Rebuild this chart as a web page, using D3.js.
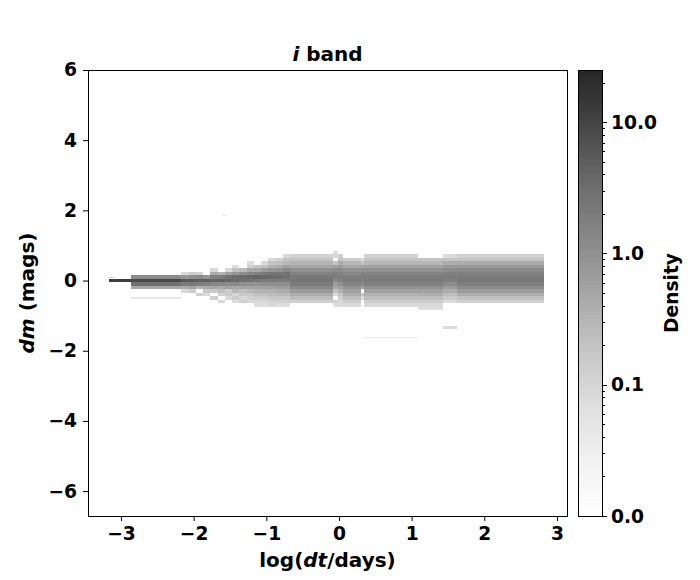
<!DOCTYPE html>
<html><head><meta charset="utf-8">
<script src="https://cdn.jsdelivr.net/npm/d3@7"></script>
<style>body{margin:0;background:#fff}svg{font-family:"DejaVu Sans",sans-serif;font-weight:bold}</style>
</head><body><svg id="c" width="700" height="580"></svg>
<script>
// ---------- DATA ----------
const xTicks = [-3, -2, -1, 0, 1, 2, 3];
const yTicks = [-6, -4, -2, 0, 2, 4, 6];
const cbTicks = [10, 1, 0.1, 0.01];
const cbLabels = ["10.0", "1.0", "0.1", "0.0"];
const binH = 0.1; // dm bin height
// column edges in log(dt/days)
const colX0 = [-3.165, -2.862, -2.17, -2.07, -1.97, -1.87, -1.77, -1.67, -1.57, -1.47, -1.37, -1.27, -1.17, -1.07, -0.97, -0.87, -0.77, -0.67, -0.08, -0.01, 0.06, 0.30, 0.34, 1.09, 1.43, 1.62];
const colX1 = [-2.862, -2.17, -2.07, -1.97, -1.87, -1.77, -1.67, -1.57, -1.47, -1.37, -1.27, -1.17, -1.07, -0.97, -0.87, -0.77, -0.67, -0.08, -0.01, 0.06, 0.30, 0.34, 1.09, 1.43, 1.62, 2.82];
// dm of top edge of first cell in each column
const colTop = [0.05, 0.15, 0.25, 0.25, 0.25, 0.25, 0.35, 0.35, 0.35, 0.45, 0.45, 0.55, 0.55, 0.55, 0.65, 0.65, 0.75, 0.75, 0.85, 0.75, 0.65, 0.65, 0.75, 0.65, 0.75, 0.75];
// densities, top to bottom
const colDensity = [
  [12],
  [1.2, 9, 3.0, 0.5],
  [0.09, 0.8, 6, 2.2, 0.45, 0.09],
  [0.14, 1.0, 5.5, 2.3, 0.6, 0.14],
  [0.12, 1.2, 5, 1.9, 0.35, 0, 0.12],
  [0, 0.9, 5, 1.7, 0.45, 0.17, 0.09],
  [0.09, 0.45, 1.8, 4.3, 1.4, 0.5, 0.17, 0, 0.14],
  [0, 0.35, 2.0, 4.5, 1.3, 0.45, 0.22, 0.12, 0, 0.09],
  [0.09, 0.6, 2.8, 4.0, 1.2, 0.6, 0.14, 0.17, 0.09],
  [0.07, 0.22, 0.9, 3.4, 3.5, 1.3, 0.5, 0.28, 0.09, 0.14, 0.07],
  [0, 0.26, 1.1, 3.7, 3.0, 1.1, 0.55, 0.22, 0.17, 0.09, 0.12],
  [0.07, 0.12, 0.45, 1.3, 3.9, 2.7, 1.0, 0.55, 0.28, 0.17, 0.12, 0.09],
  [0, 0.2, 0.5, 1.8, 4.2, 2.4, 1.0, 0.55, 0.35, 0.22, 0.14, 0.09, 0.07],
  [0.09, 0.22, 0.7, 2.2, 3.9, 2.1, 1.1, 0.62, 0.35, 0.22, 0.14, 0.09, 0.07],
  [0.09, 0.2, 0.35, 0.9, 2.5, 3.5, 2.0, 1.05, 0.62, 0.35, 0.25, 0.17, 0.12, 0.09],
  [0.12, 0.22, 0.42, 1.0, 2.7, 3.2, 2.0, 1.1, 0.7, 0.42, 0.28, 0.17, 0.12, 0.07],
  [0.09, 0.2, 0.28, 0.62, 1.4, 2.8, 2.9, 2.0, 1.1, 0.7, 0.42, 0.28, 0.17, 0.12, 0.07],
  [0.12, 0.2, 0.33, 0.5, 1.0, 1.6, 2.3, 2.5, 2.0, 1.3, 0.75, 0.42, 0.24, 0.13],
  [0.07, 0.09, 0, 0.2, 0.6, 1.2, 1.9, 2.0, 1.3, 0.7, 0.45, 0.2, 0.09, 0, 0.12, 0.07],
  [0.12, 0.2, 0.4, 0.7, 1.2, 1.7, 2.0, 1.7, 1.0, 0.6, 0.35, 0.2, 0.12, 0.08, 0.08],
  [0.15, 0.3, 0.5, 0.9, 1.4, 1.9, 2.0, 1.6, 1.0, 0.6, 0.4, 0.24, 0.15, 0.09],
  [0.08, 0.2, 0.6, 1.0, 1.6, 2.0, 1.8, 1.2, 0.6, 0, 0.2, 0.08],
  [0.12, 0.2, 0.3, 0.6, 1.0, 1.6, 2.0, 2.2, 1.8, 1.0, 0.6, 0.35, 0.24, 0.15, 0.09],
  [0.2, 0.3, 0.6, 1.0, 1.6, 2.0, 2.1, 1.8, 1.0, 0.6, 0.4, 0.24, 0.15, 0.09, 0.07],
  [0.08, 0.2, 0.4, 0.75, 1.2, 1.8, 2.0, 1.9, 1.2, 0.7, 0.4, 0.24, 0.15, 0.08],
  [0.12, 0.2, 0.4, 0.75, 1.3, 1.8, 2.2, 2.3, 1.9, 1.2, 0.7, 0.4, 0.22, 0.12]
];
// isolated sparse cells
const outX0 = [-2.862, 0.34, 1.43, -1.60, -3.165];
const outX1 = [-2.17, 1.09, 1.62, -1.55, -3.10];
const outDmTop = [-0.47, -1.60, -1.30, 1.86, 0.10];
const outDmBot = [-0.52, -1.65, -1.38, 1.83, 0.07];
const outDensity = [0.05, 0.05, 0.08, 0.06, 0.12];
const vmin = 0.01, vmax = 25;

// ---------- LAYOUT ----------
const svg = d3.select("#c");
const L = 88, R = 567, T = 70, B = 516;
const x = d3.scaleLinear().domain([-3.454, 3.138]).range([L, R]);
const y = d3.scaleLinear().domain([-6.71, 6]).range([B, T]);
const norm = d3.scaleLog().domain([vmin, vmax]).clamp(true);
const color = d => d3.interpolateRgb("#ffffff", d3.interpolateGreys(norm(d)))(0.85);

// cells
const cells = [];
colDensity.forEach((arr, i) => {
  arr.forEach((d, j) => {
    if (d > 0) cells.push({x0: colX0[i], x1: colX1[i], top: colTop[i] - j * binH, bot: colTop[i] - (j + 1) * binH, d});
  });
});
outDensity.forEach((d, i) => cells.push({x0: outX0[i], x1: outX1[i], top: outDmTop[i], bot: outDmBot[i], d}));

svg.append("g").selectAll("rect").data(cells).join("rect")
  .attr("x", c => x(c.x0)).attr("width", c => x(c.x1) - x(c.x0))
  .attr("y", c => y(c.top)).attr("height", c => y(c.bot) - y(c.top))
  .attr("fill", c => color(c.d)).attr("shape-rendering", "crispEdges");

// frame
svg.append("rect").attr("x", L).attr("y", T).attr("width", R - L).attr("height", B - T)
  .attr("fill", "none").attr("stroke", "#000").attr("stroke-width", 1).attr("shape-rendering", "crispEdges");

const fmt = v => (v < 0 ? "\u2212" : "") + Math.abs(v);
const xa = svg.append("g").attr("transform", `translate(0,${B})`)
  .call(d3.axisBottom(x).tickValues(xTicks).tickFormat(fmt).tickSize(5).tickPadding(6));
const ya = svg.append("g").attr("transform", `translate(${L},0)`)
  .call(d3.axisLeft(y).tickValues(yTicks).tickFormat(fmt).tickSize(5).tickPadding(6));
[xa, ya].forEach(a => {
  a.select(".domain").remove();
  a.selectAll("text").attr("font-size", 18.67).attr("font-weight", "bold").attr("font-family", "DejaVu Sans").attr("fill", "#000");
  a.selectAll("line").attr("stroke", "#000");
});

// title & labels
svg.append("text").attr("x", (L + R) / 2).attr("y", 61).attr("text-anchor", "middle").attr("font-size", 20)
  .html('<tspan font-style="italic">i</tspan> band');
svg.append("text").attr("x", (L + R) / 2).attr("y", 567).attr("text-anchor", "middle").attr("font-size", 20)
  .html('log(<tspan font-style="italic">dt</tspan>/days)');
svg.append("text").attr("transform", `translate(34,${(T + B) / 2}) rotate(-90)`).attr("text-anchor", "middle").attr("font-size", 20)
  .html('<tspan font-style="italic">dm</tspan>  (mags)');

// colorbar
const cL = 578, cR = 602;
const cy = d3.scaleLog().domain([vmin, vmax]).range([B, T]);
const nSteps = 223;
const steps = d3.range(nSteps).map(i => i);
svg.append("g").selectAll("rect").data(steps).join("rect")
  .attr("x", cL).attr("width", cR - cL)
  .attr("y", i => B - (i + 1) * (B - T) / nSteps).attr("height", (B - T) / nSteps + 0.6)
  .attr("fill", i => color(cy.invert(B - (i + 0.5) * (B - T) / nSteps)));
svg.append("rect").attr("x", cL).attr("y", T).attr("width", cR - cL).attr("height", B - T)
  .attr("fill", "none").attr("stroke", "#000").attr("stroke-width", 1).attr("shape-rendering", "crispEdges");
const minor = [];
[0.01, 0.1, 1, 10].forEach(dec => { for (let k = 2; k <= 9; k++) { const v = dec * k; if (v <= vmax) minor.push(v); } });
svg.append("g").selectAll("line").data(minor).join("line")
  .attr("x1", cR).attr("x2", cR + 3).attr("y1", v => Math.round(cy(v)) + 0.5).attr("y2", v => Math.round(cy(v)) + 0.5)
  .attr("stroke", "#000");
svg.append("g").selectAll("line").data(cbTicks).join("line")
  .attr("x1", cR).attr("x2", cR + 5).attr("y1", v => Math.round(cy(v)) + 0.5).attr("y2", v => Math.round(cy(v)) + 0.5)
  .attr("stroke", "#000");
svg.append("g").selectAll("text").data(cbTicks).join("text")
  .attr("x", cR + 9).attr("y", v => cy(v)).attr("dy", "0.35em").attr("font-size", 18.67)
  .text((v, i) => cbLabels[i]);
svg.append("text").attr("transform", `translate(678,${(T + B) / 2}) rotate(-90)`).attr("text-anchor", "middle").attr("font-size", 18.67)
  .text("Density");
</script></body></html>
